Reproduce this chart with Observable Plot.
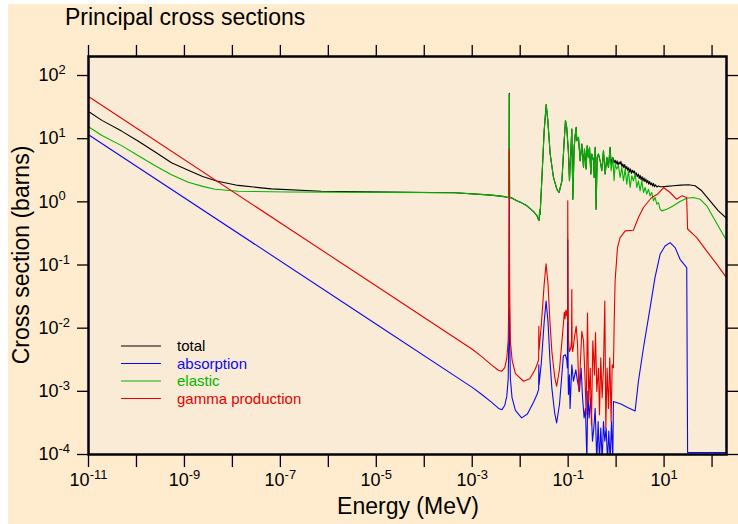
<!DOCTYPE html>
<html>
<head>
<meta charset="utf-8">
<script src="https://cdn.jsdelivr.net/npm/d3@7"></script>
<script src="https://cdn.jsdelivr.net/npm/@observablehq/plot@0.6"></script>
<style>
  html, body { margin: 0; padding: 0; background: #ffffff; }
  #page { position: absolute; left: 8px; top: 4px; width: 730px; height: 520px; background: #FFEBCD; }
  #chart { position: absolute; left: 0; top: 0; }
</style>
</head>
<body>
<div id="page"></div>
<div id="chart"></div>
<script>
// Every curve is listed as [log10 energy (MeV), log10 cross section (barns)].

const totalPts = [
  [-11.00, 1.43], [-10.72, 1.29], [-10.31, 1.12], [-9.96, 0.96], [-9.61, 0.79],
  [-9.27, 0.62], [-8.92, 0.50], [-8.62, 0.40], [-8.33, 0.33], [-7.88, 0.26],
  [-7.19, 0.205], [-6.15, 0.168], [-4.75, 0.154], [-3.36, 0.143], [-2.67, 0.111],
  [-2.45, 0.095], [-2.30, 0.078], [-2.25, 0.070], [-2.236, 0.065], [-2.231, 0.9],
  [-2.228, 1.72], [-2.225, 0.9], [-2.221, 0.06], [-2.195, 0.068], [-2.07, 0.016],
  [-1.96, -0.02], [-1.86, -0.063], [-1.72, -0.154], [-1.65, -0.22], [-1.615, -0.29],
  [-1.604, -0.29], [-1.595, -0.13], [-1.585, -0.2], [-1.55, 0.333], [-1.50, 1.127],
  [-1.458, 1.54], [-1.424, 1.286], [-1.375, 0.757], [-1.306, 0.386], [-1.236, 0.20],
  [-1.19, 0.148], [-1.13, 0.333], [-1.083, 0.968], [-1.056, 1.286], [-1.03, 1.18],
  [-0.994, 0.783], [-0.973, 0.333], [-0.944, 0.81], [-0.924, 1.154], [-0.903, 0.043],
  [-0.875, 0.862], [-0.854, 1.048], [-0.833, 1.18], [-0.82, 0.968], [-0.785, 1.02],
  [-0.75, 0.65], [-0.715, 0.915], [-0.68, 0.545], [-0.66, 0.836], [-0.625, 0.519],
  [-0.604, 0.889], [-0.576, 0.703], [-0.555, 0.862], [-0.527, 0.44], [-0.506, 0.757],
  [-0.47, 0.65], [-0.458, 0.386], [-0.437, 0.862], [-0.417, -0.116], [-0.396, 0.703],
  [-0.368, 0.757], [-0.333, 0.65], [-0.299, 0.492], [-0.264, 0.81], [-0.229, 0.44],
  [-0.194, 0.703], [-0.16, 0.545], [-0.125, 0.862], [-0.104, 0.60], [-0.07, 0.703],
  [-0.042, 0.62], [-0.021, 0.66], [0.00, 0.60], [0.02, 0.65], [0.04, 0.58],
  [0.06, 0.63], [0.083, 0.598], [0.10, 0.64], [0.12, 0.56], [0.14, 0.60],
  [0.16, 0.54], [0.18, 0.59], [0.20, 0.52], [0.222, 0.56], [0.24, 0.50],
  [0.26, 0.54], [0.28, 0.47], [0.30, 0.52], [0.32, 0.45], [0.34, 0.50],
  [0.361, 0.46], [0.38, 0.49], [0.40, 0.42], [0.42, 0.46], [0.44, 0.40],
  [0.465, 0.44], [0.48, 0.37], [0.50, 0.42], [0.52, 0.35], [0.54, 0.40],
  [0.56, 0.33], [0.58, 0.38], [0.60, 0.32], [0.62, 0.36], [0.639, 0.30],
  [0.66, 0.34], [0.68, 0.28], [0.70, 0.32], [0.72, 0.27], [0.74, 0.30],
  [0.76, 0.25], [0.778, 0.29], [0.80, 0.24], [0.82, 0.27], [0.85, 0.235],
  [0.88, 0.25], [0.92, 0.238], [0.951, 0.238], [1.05, 0.245], [1.194, 0.254],
  [1.35, 0.265], [1.507, 0.27], [1.646, 0.254], [1.785, 0.175], [1.958, 0.016],
  [2.132, -0.143], [2.301, -0.26]
];

const absorptionPts = [
  [-11.00, 1.063], [-5.00, -1.937], [-3.00, -2.937], [-2.80, -3.05], [-2.60, -3.17],
  [-2.45, -3.27], [-2.38, -3.29], [-2.32, -3.22], [-2.28, -3.08], [-2.25, -2.8],
  [-2.238, -2.2], [-2.232, -1.2], [-2.228, 0.24], [-2.224, -1.2], [-2.218, -2.2],
  [-2.205, -2.8], [-2.17, -3.1], [-2.10, -3.3], [-1.97, -3.42], [-1.85, -3.36],
  [-1.72, -3.17], [-1.65, -3.05], [-1.615, -2.97], [-1.612, -2.58], [-1.607, -2.9],
  [-1.56, -2.55], [-1.50, -1.9], [-1.46, -1.57], [-1.42, -1.9], [-1.38, -2.5],
  [-1.34, -2.95], [-1.28, -3.35], [-1.24, -3.5], [-1.18, -3.2], [-1.10, -2.44],
  [-1.06, -2.42], [-1.03, -2.5], [-1.016, -2.63], [-1.008, -0.6], [-1.00, -2.8],
  [-0.994, -3.05], [-0.973, -2.74], [-0.96, -3.27], [-0.924, -2.58], [-0.89, -2.84],
  [-0.84, -2.66], [-0.806, -2.84], [-0.764, -3.0], [-0.73, -2.63], [-0.70, -3.1],
  [-0.667, -3.42], [-0.64, -3.27], [-0.61, -4.1], [-0.59, -3.0], [-0.563, -3.42],
  [-0.528, -3.1], [-0.493, -3.79], [-0.465, -3.58], [-0.437, -3.27], [-0.403, -4.1],
  [-0.375, -3.48], [-0.347, -4.1], [-0.32, -3.58], [-0.29, -4.1], [-0.264, -3.48],
  [-0.236, -3.79], [-0.208, -3.58], [-0.18, -4.1], [-0.153, -3.63], [-0.125, -4.1],
  [-0.097, -3.48], [-0.07, -4.1], [-0.056, -3.16], [0.10, -3.2], [0.25, -3.26],
  [0.396, -3.31], [0.465, -2.84], [0.57, -2.31], [0.708, -1.68], [0.81, -1.2],
  [0.917, -0.83], [1.02, -0.7], [1.125, -0.646], [1.23, -0.725], [1.333, -0.91],
  [1.472, -1.04], [1.49, -3.97], [2.301, -3.97]
];

const elasticPts = [
  [-11.00, 1.19], [-10.72, 1.05], [-10.31, 0.89], [-9.96, 0.73], [-9.61, 0.57],
  [-9.27, 0.43], [-8.92, 0.31], [-8.62, 0.245], [-8.36, 0.20], [-7.88, 0.168],
  [-6.83, 0.156], [-4.75, 0.150], [-3.36, 0.143], [-2.67, 0.111], [-2.45, 0.095],
  [-2.30, 0.078], [-2.25, 0.070], [-2.236, 0.065], [-2.231, 0.9], [-2.228, 1.70],
  [-2.225, 0.9], [-2.221, 0.06], [-2.195, 0.068], [-2.07, 0.016], [-1.96, -0.02],
  [-1.86, -0.063], [-1.72, -0.154], [-1.65, -0.22], [-1.615, -0.29], [-1.604, -0.29],
  [-1.595, -0.13], [-1.585, -0.2], [-1.55, 0.333], [-1.50, 1.127], [-1.458, 1.54],
  [-1.424, 1.286], [-1.375, 0.757], [-1.306, 0.386], [-1.236, 0.20], [-1.19, 0.148],
  [-1.13, 0.333], [-1.083, 0.968], [-1.056, 1.286], [-1.03, 1.18], [-0.994, 0.783],
  [-0.973, 0.333], [-0.944, 0.81], [-0.924, 1.154], [-0.903, 0.043], [-0.875, 0.862],
  [-0.854, 1.048], [-0.833, 1.18], [-0.82, 0.968], [-0.785, 1.02], [-0.75, 0.65],
  [-0.715, 0.915], [-0.68, 0.545], [-0.66, 0.836], [-0.625, 0.519], [-0.604, 0.889],
  [-0.576, 0.703], [-0.555, 0.862], [-0.527, 0.44], [-0.506, 0.757], [-0.47, 0.65],
  [-0.458, 0.386], [-0.437, 0.862], [-0.417, -0.116], [-0.396, 0.703], [-0.368, 0.757],
  [-0.333, 0.65], [-0.299, 0.492], [-0.264, 0.81], [-0.229, 0.44], [-0.194, 0.703],
  [-0.16, 0.545], [-0.125, 0.862], [-0.104, 0.492], [-0.07, 0.703], [-0.042, 0.333],
  [-0.021, 0.598], [0.014, 0.519], [0.049, 0.571], [0.083, 0.386], [0.118, 0.545],
  [0.153, 0.333], [0.188, 0.519], [0.222, 0.28], [0.257, 0.492], [0.292, 0.227],
  [0.326, 0.413], [0.361, 0.333], [0.396, 0.44], [0.431, 0.227], [0.465, 0.333],
  [0.50, 0.175], [0.535, 0.333], [0.57, 0.148], [0.604, 0.227], [0.639, 0.122],
  [0.674, 0.20], [0.708, 0.095], [0.743, 0.148], [0.778, 0.016], [0.813, 0.069],
  [0.847, -0.037], [0.882, -0.011], [0.917, -0.116], [0.951, -0.143], [1.056, -0.116],
  [1.194, -0.063], [1.333, 0.005], [1.472, 0.058], [1.611, 0.069], [1.75, 0.042],
  [1.889, -0.063], [2.028, -0.249], [2.167, -0.434], [2.301, -0.61]
];

const gammaPts = [
  [-11.00, 1.667], [-5.00, -1.333], [-3.00, -2.333], [-2.80, -2.45], [-2.60, -2.58],
  [-2.45, -2.67], [-2.38, -2.68], [-2.32, -2.62], [-2.28, -2.48], [-2.25, -2.2],
  [-2.238, -1.6], [-2.232, -0.5], [-2.228, 0.836], [-2.224, -0.5], [-2.218, -1.6],
  [-2.205, -2.2], [-2.17, -2.5], [-2.10, -2.72], [-1.93, -2.84], [-1.80, -2.8],
  [-1.70, -2.67], [-1.65, -2.58], [-1.615, -2.5], [-1.612, -1.97], [-1.607, -2.35],
  [-1.56, -1.95], [-1.50, -1.3], [-1.46, -0.98], [-1.42, -1.3], [-1.38, -1.9],
  [-1.34, -2.37], [-1.28, -2.78], [-1.24, -2.92], [-1.18, -2.65], [-1.10, -1.94],
  [-1.08, -1.75], [-1.065, -1.85], [-1.05, -1.72], [-1.035, -1.8], [-1.02, -1.7],
  [-1.012, -1.9], [-1.008, 0.016], [-1.003, -1.5], [-0.994, -2.2], [-0.973, -2.37],
  [-0.944, -2.31], [-0.93, -2.2], [-0.924, -1.39], [-0.918, -2.3], [-0.903, -2.37],
  [-0.868, -2.15], [-0.833, -1.97], [-0.805, -2.25], [-0.777, -3.0], [-0.75, -2.63],
  [-0.715, -2.05], [-0.68, -2.2], [-0.646, -2.84], [-0.625, -3.37], [-0.597, -1.76],
  [-0.57, -3.16], [-0.54, -2.63], [-0.514, -3.53], [-0.486, -2.2], [-0.451, -2.74],
  [-0.43, -2.07], [-0.403, -3.0], [-0.368, -2.63], [-0.347, -3.37], [-0.32, -2.47],
  [-0.292, -3.1], [-0.264, -2.63], [-0.236, -1.57], [-0.215, -3.58], [-0.188, -2.63],
  [-0.16, -3.27], [-0.132, -2.47], [-0.104, -3.48], [-0.083, -2.58], [-0.056, -2.63],
  [-0.04, -1.9], [-0.021, -1.25], [0.028, -0.725], [0.083, -0.567], [0.19, -0.46],
  [0.36, -0.45], [0.465, -0.249], [0.57, -0.09], [0.74, 0.069], [0.86, 0.12],
  [0.99, 0.227], [1.125, 0.148], [1.26, 0.042], [1.37, 0.095], [1.47, 0.069],
  [1.49, -0.43], [1.68, -0.567], [1.89, -0.78], [2.10, -0.99], [2.301, -1.2]
];

// Series names and colours, in drawing order (also the legend order)
const seriesNames = ["total", "absorption", "elastic", "gamma production"];
const seriesColors = ["#000000", "#0a0aee", "#00b400", "#e60000"];
const seriesPts = [totalPts, absorptionPts, elasticPts, gammaPts];

// Decade ticks on both log axes
const xExponents = d3.range(-11, 3);
const yExponents = d3.range(-4, 3);

const FONT = "'Liberation Sans', Arial, Helvetica, sans-serif";
const PLOT_BG = "#FAEBD7";

const toRows = (pts) => pts.map(([le, ls]) => ({E: 10 ** le, xs: 10 ** ls}));
const decadeLabel = (d) => `10^${Math.round(Math.log10(d))}`;
const oddDecadeLabel = (d) => {
  const e = Math.round(Math.log10(d));
  return Math.abs(e) % 2 === 1 ? `10^${e}` : "";
};

const xTicks = xExponents.map((e) => 10 ** e);
const yTicks = yExponents.map((e) => 10 ** e);

const chart = Plot.plot({
  width: 738,
  height: 524,
  marginLeft: 88,
  marginRight: 12,
  marginTop: 56,
  marginBottom: 70,
  style: {background: "transparent", fontFamily: FONT, fontSize: "18px", color: "#000"},
  x: {type: "log", domain: [1e-11, 200], label: null},
  y: {type: "log", domain: [1e-4, 200], label: null},
  marks: [
    Plot.frame({fill: PLOT_BG, stroke: null}),
    ...seriesPts.map((pts, i) =>
      Plot.line(toRows(pts), {x: "E", y: "xs", stroke: seriesColors[i], strokeWidth: 1.1, clip: true})
    ),
    Plot.axisX({anchor: "bottom", ticks: xTicks, tickSize: 13, tickPadding: 6, tickFormat: oddDecadeLabel,
      stroke: "#000", strokeWidth: 1.3, fontSize: 18, label: null}),
    Plot.axisX({anchor: "top", ticks: xTicks, tickSize: 12, tickFormat: () => "",
      stroke: "#000", strokeWidth: 1.3, label: null}),
    // left labels sit flush-left in the margin
    Plot.axisY({anchor: "left", ticks: yTicks, tickSize: 11, tickPadding: 39, textAnchor: "start",
      tickFormat: decadeLabel, stroke: "#000", strokeWidth: 1.3, fontSize: 18, label: null}),
    Plot.axisY({anchor: "right", ticks: yTicks, tickSize: 11, tickFormat: () => "",
      stroke: "#000", strokeWidth: 1.3, label: null}),
    Plot.frame({stroke: "#000", strokeWidth: 2.5})
  ]
});

document.getElementById("chart").appendChild(chart);

// Turn "10^e" tick labels into 10 with a raised exponent
const svg = d3.select(chart);
svg.selectAll("text").each(function () {
  const m = /^10\^(-?\d+)$/.exec(this.textContent.trim());
  if (!m) return;
  const t = d3.select(this);
  t.selectAll("*").remove();
  t.text(null);
  t.append("tspan").text("10");
  t.append("tspan").attr("dy", "-0.55em").attr("font-size", "0.72em").text(m[1]);
});

// Title and axis titles
const txt = (x, y, s, size, anchor) =>
  svg.append("text").attr("x", x).attr("y", y).attr("font-family", FONT)
    .attr("font-size", size).attr("text-anchor", anchor).attr("fill", "#000").text(s);

txt(65, 25, "Principal cross sections", 23, "start");
txt(408, 514, "Energy (MeV)", 23, "middle");
svg.append("text")
  .attr("transform", "translate(29,255) rotate(-90)")
  .attr("font-family", FONT).attr("font-size", 23).attr("text-anchor", "middle")
  .attr("fill", "#000").text("Cross section (barns)");

// Legend inside the plot area
const legend = svg.append("g");
seriesNames.forEach((name, i) => {
  const y = 346 + i * 17.5;
  legend.append("line").attr("x1", 121).attr("x2", 161).attr("y1", y).attr("y2", y)
    .style("stroke", seriesColors[i]).style("stroke-width", "1.1px");
  legend.append("text").attr("x", 177).attr("y", y + 5).attr("font-family", FONT)
    .attr("font-size", 15).attr("text-anchor", "start").attr("fill", seriesColors[i]).text(name);
});
</script>
</body>
</html>
